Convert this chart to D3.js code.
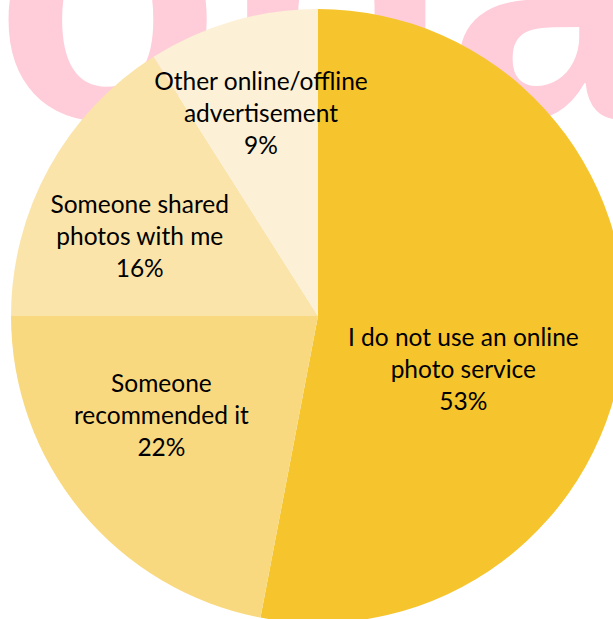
<!DOCTYPE html>
<html>
<head>
<meta charset="utf-8">
<script src="https://cdn.jsdelivr.net/npm/d3@7"></script>
<style>
  html, body { margin: 0; padding: 0; background: #ffffff; }
  svg { display: block; }
</style>
</head>
<body>
<svg id="chart" width="613" height="619"></svg>
<script>
// How people came to online photo services (share of respondents, %)
const categories = [
  "I do not use an online photo service",
  "Someone recommended it",
  "Someone shared photos with me",
  "Other online/offline advertisement"
];
const values = [53, 22, 16, 9];
const labelLines = [
  ["I do not use an online", "photo service"],
  ["Someone", "recommended it"],
  ["Someone shared", "photos with me"],
  ["Other online/offline", "advertisement"]
];
const sliceColors = ["#F6C42C", "#F9D97F", "#FAE4AA", "#FCF0D6"];

// Layout
const W = 613, H = 619;
const cx = 318, cy = 316, radius = 307;
const lineGap = 32;
// label anchor (baseline of middle line) in polar terms around the pie centre
const labelRadius = [158, 190, 192, 202];
const labelAngleNudge = [17.7, 5.1, -7.0, -0.2]; // degrees

const svg = d3.select("#chart");

// faint background lettering
svg.append("text")
  .attr("x", -6)
  .attr("y", 118)
  .attr("font-family", "Liberation Sans, Arial, sans-serif")
  .attr("font-weight", "bold")
  .attr("font-size", 372)
  .attr("fill", "#FFCCD9")
  .text("ona");

const data = categories.map((c, i) => ({ category: c, value: values[i], lines: labelLines[i], color: sliceColors[i] }));

const pie = d3.pie().sort(null).value(d => d.value).startAngle(0).endAngle(2 * Math.PI);
const arc = d3.arc().innerRadius(0).outerRadius(radius);
const arcs = pie(data);

const g = svg.append("g").attr("transform", `translate(${cx},${cy})`);

g.selectAll("path.slice")
  .data(arcs)
  .join("path")
  .attr("class", "slice")
  .attr("d", arc)
  .attr("fill", d => d.data.color);

const fmt = d3.format(".0f");
const labels = g.selectAll("text.label")
  .data(arcs)
  .join("text")
  .attr("class", "label")
  .attr("font-family", "Lato, 'Open Sans', sans-serif")
  .attr("font-size", 24.5)
  .attr("fill", "#000")
  .attr("text-anchor", "middle")
  .each(function (d, i) {
    const mid = (d.startAngle + d.endAngle) / 2 + labelAngleNudge[i] * Math.PI / 180;
    const r = labelRadius[i];
    const x = r * Math.sin(mid);
    const y = -r * Math.cos(mid);
    const lines = d.data.lines.concat([fmt(d.data.value) + "%"]);
    const t = d3.select(this);
    lines.forEach((ln, k) => {
      t.append("tspan")
        .attr("x", x)
        .attr("y", y + (k - 1) * lineGap)
        .text(ln);
    });
  });
</script>
</body>
</html>
